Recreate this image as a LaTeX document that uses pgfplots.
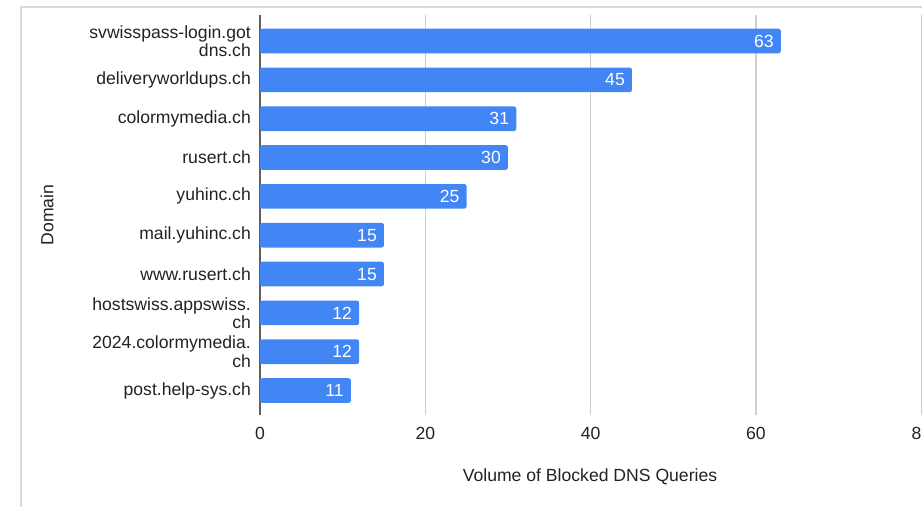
\documentclass[border=0pt]{standalone}
\usepackage{fontspec}
\setmainfont{Liberation Sans}
\usepackage{pgfplots}
\pgfplotsset{compat=1.18}
\definecolor{barblue}{HTML}{4285F4}
\definecolor{txt}{HTML}{222222}
\definecolor{gridc}{HTML}{D0D0D0}
\definecolor{framec}{HTML}{D9D9D9}
\definecolor{zeroc}{HTML}{5F5F5F}
\newcommand{\lblfont}{\fontsize{13.2pt}{13.6pt}\selectfont}
\begin{document}
\begin{tikzpicture}[x=0.75pt,y=0.75pt]
\useasboundingbox (0,0) rectangle (922,507);
\clip (0,0) rectangle (922,507);
% outer frame of the chart card
\draw[framec, line width=1.1pt] (21,-5) -- (21,500) -- (930,500);
\coordinate (plotorigin) at (260,92);
\begin{axis}[
  at={(plotorigin)}, anchor=south west, scale only axis,
  width=496pt, height=300pt,
  xbar, bar width=18.5pt,
  xmin=0, xmax=80, ymin=-0.67, ymax=9.63, y dir=reverse,
  /pgf/number format/assume math mode=true,
  axis line style={draw=none}, tick style={draw=none},
  xtick={20,40,60,80},
  extra x ticks={0},
  extra x tick style={grid style={draw=zeroc, line width=1.1pt}},
  xmajorgrids, grid style={draw=gridc, line width=1.1pt},
  ytick={0,...,9},
  yticklabels={{svwisspass-login.got\\dns.ch},deliveryworldups.ch,colormymedia.ch,rusert.ch,yuhinc.ch,mail.yuhinc.ch,www.rusert.ch,{hostswiss.appswiss.\\ch},{2024.colormymedia.\\ch},post.help-sys.ch},
  yticklabel style={align=right, anchor=east, inner sep=0pt, xshift=-2.4pt, font=\lblfont, text=txt},
  xticklabel style={anchor=center, inner sep=0pt, yshift=-13.5pt, font=\lblfont, text=txt},
  xlabel={Volume of Blocked DNS Queries},
  xlabel style={at={(axis description cs:0.499,-0.155)}, anchor=center, font=\lblfont, text=txt},
  ylabel={Domain},
  ylabel style={at={(axis description cs:-0.322,0.5)}, anchor=center, font=\lblfont, text=txt},
  nodes near coords,
  nodes near coords style={anchor=east, inner sep=0pt, xshift=-5.2pt, font=\lblfont, text=white},
]
\addplot[fill=barblue, draw=none, rounded corners=1.8pt] coordinates {
  (63,0) (45,1) (31,2) (30,3) (25,4) (15,5) (15,6) (12,7) (12,8) (11,9)
};
\end{axis}
\end{tikzpicture}
\end{document}
